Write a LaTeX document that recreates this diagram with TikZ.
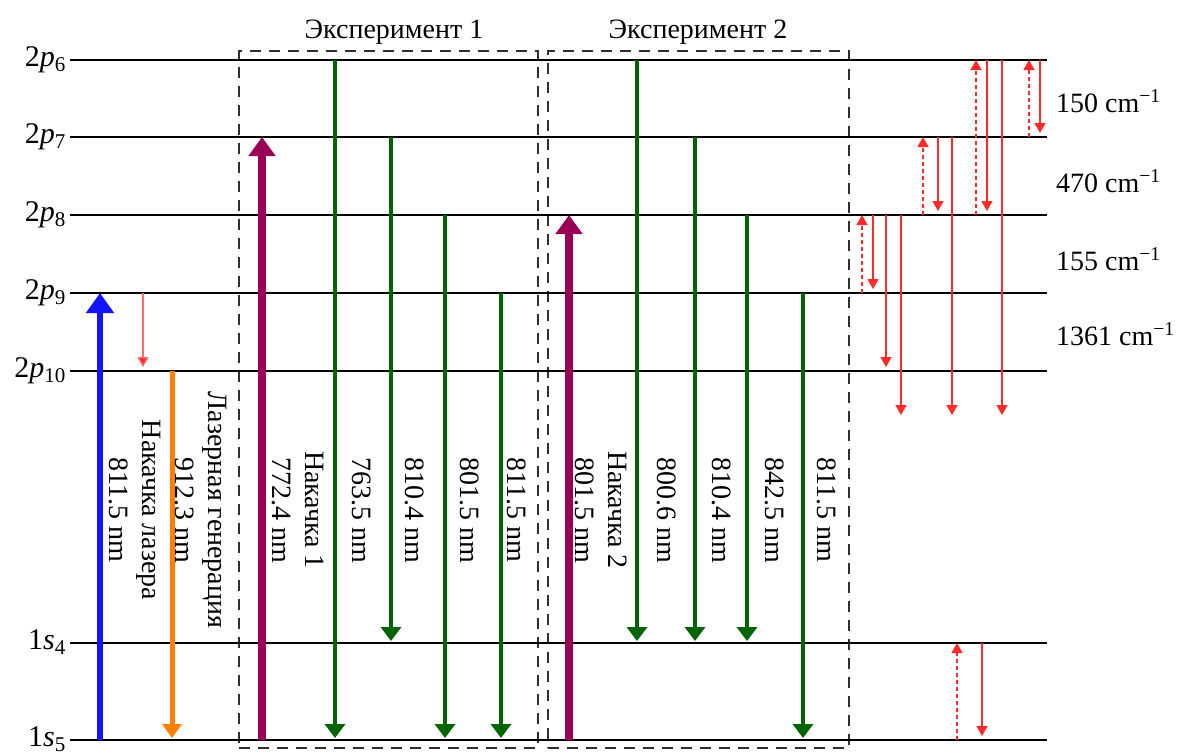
\documentclass[tikz,border=0pt]{standalone}
\usepackage{fontspec}
\setmainfont{Liberation Serif}
\usetikzlibrary{arrows.meta}
\definecolor{pgreen}{HTML}{006400}
\definecolor{pmaroon}{HTML}{990055}
\definecolor{pblue}{HTML}{1414FF}
\definecolor{porange}{HTML}{FF8000}
\definecolor{pred}{HTML}{FF2A2A}
\definecolor{plred}{HTML}{FF6A6A}
\definecolor{boxgray}{HTML}{303030}
\begin{document}
\begin{tikzpicture}[x=1pt,y=-1pt,
  lvl/.style={line width=2.8pt,black},
  lvlabel/.style={anchor=base east,inner sep=0pt,font=\fontsize{30}{33}\selectfont},
  txt/.style={inner sep=0pt,font=\fontsize{28}{33}\selectfont},
  vlabel/.style={txt,rotate=-90,align=center},
  expbox/.style={draw=boxgray,line width=1.5pt,dash pattern=on 11pt off 8pt,minimum height=697pt,inner sep=0pt,anchor=north west},
  garrow/.style={pgreen,line width=4pt,shorten >=2pt,-{Triangle[width=20pt,length=14pt]}},
  marrow/.style={pmaroon,line width=7.5pt,-{Triangle[width=26pt,length=19pt]}},
  barrow/.style={pblue,line width=6pt,-{Triangle[width=27pt,length=20pt]}},
  oarrow/.style={porange,line width=5pt,shorten >=2pt,-{Triangle[width=19pt,length=14pt]}},
  rarrow/.style={pred,line width=1.3pt,-{Triangle[width=11pt,length=10pt]}},
  rdown/.style={rarrow,shorten >=4pt},
  rup/.style={rarrow,dash pattern=on 4pt off 3pt},
]
\useasboundingbox (0,0) rectangle (1182,753);

% experiment boxes
\node[expbox,minimum width=299pt] (box1) at (238,50) {};
\node[expbox,minimum width=301pt] (box2) at (547,50) {};
\node[txt,anchor=base] (t1) at (394,38) {Эксперимент 1};
\node[txt,anchor=base] (t2) at (698,38) {Эксперимент 2};

% levels
\foreach \n/\y in {P6/60,P7/137,P8/215,P9/293,P10/371,S4/643,S5/740}{
  \coordinate (\n a) at (70,\y);
  \coordinate (\n b) at (1047,\y);
  \draw[lvl] (\n a) -- (\n b);
}
\node[lvlabel] (lP6) at ([xshift=-4pt,yshift=-6pt]P6a) {2\textit{p}\textsubscript{6}};
\node[lvlabel] (lP7) at ([xshift=-4pt,yshift=-6pt]P7a) {2\textit{p}\textsubscript{7}};
\node[lvlabel] (lP8) at ([xshift=-4pt,yshift=-6pt]P8a) {2\textit{p}\textsubscript{8}};
\node[lvlabel] (lP9) at ([xshift=-4pt,yshift=-6pt]P9a) {2\textit{p}\textsubscript{9}};
\node[lvlabel] (lP10) at ([xshift=-4pt,yshift=-6pt]P10a) {2\textit{p}\textsubscript{10}};
\node[lvlabel] (lS4) at ([xshift=-4pt,yshift=-6pt]S4a) {1\textit{s}\textsubscript{4}};
\node[lvlabel] (lS5) at ([xshift=-4pt,yshift=-6pt]S5a) {1\textit{s}\textsubscript{5}};

% laser pump and generation
\draw[barrow] (100,0 |- S5a) -- (100,0 |- P9a);
\draw[oarrow] (172,0 |- P10a) -- (172,0 |- S5a);
\draw[plred,line width=1.3pt,shorten >=4pt,-{Triangle[width=11pt,length=10pt,fill=pred]}] (143,0 |- P9a) -- (143,0 |- P10a);

% experiment 1
\draw[marrow] (262,0 |- S5a) -- (262,0 |- P7a);
\draw[garrow] (335,0 |- P6a) -- (335,0 |- S5a);
\draw[garrow] (391,0 |- P7a) -- (391,0 |- S4a);
\draw[garrow] (445,0 |- P8a) -- (445,0 |- S5a);
\draw[garrow] (501,0 |- P9a) -- (501,0 |- S5a);

% experiment 2
\draw[marrow] (569,0 |- S5a) -- (569,0 |- P8a);
\draw[garrow] (637,0 |- P6a) -- (637,0 |- S4a);
\draw[garrow] (695,0 |- P7a) -- (695,0 |- S4a);
\draw[garrow] (747,0 |- P8a) -- (747,0 |- S4a);
\draw[garrow] (803,0 |- P9a) -- (803,0 |- S5a);

% relaxation arrows
\coordinate (e1) at (901,415);
\coordinate (e2) at (952,415);
\coordinate (e3) at (1002,415);
\draw[rup] (862,0 |- P9a) -- (862,0 |- P8a);
\draw[rdown] (873,0 |- P8a) -- (873,0 |- P9a);
\draw[rdown] (886,0 |- P8a) -- (886,0 |- P10a);
\draw[rarrow] (901,0 |- P8a) -- (e1);
\draw[rup] (923,0 |- P8a) -- (923,0 |- P7a);
\draw[rdown] (938,0 |- P7a) -- (938,0 |- P8a);
\draw[rarrow] (952,0 |- P7a) -- (e2);
\draw[rup] (976,0 |- P8a) -- (976,0 |- P6a);
\draw[rdown] (987,0 |- P6a) -- (987,0 |- P8a);
\draw[rarrow] (1002,0 |- P6a) -- (e3);
\draw[rup] (1029,0 |- P7a) -- (1029,0 |- P6a);
\draw[rdown] (1040,0 |- P6a) -- (1040,0 |- P7a);
\draw[rup] (957,0 |- S5a) -- (957,0 |- S4a);
\draw[rdown] (982,0 |- S4a) -- (982,0 |- S5a);

% energy gaps
\node[txt,anchor=base west] (c1) at (1056,112) {150 cm\textsuperscript{−1}};
\node[txt,anchor=base west] (c2) at (1056,192) {470 cm\textsuperscript{−1}};
\node[txt,anchor=base west] (c3) at (1056,270) {155 cm\textsuperscript{−1}};
\node[txt,anchor=base west] (c4) at (1056,345) {1361 cm\textsuperscript{−1}};

% vertical labels
\node[vlabel] (v1) at (134.5,510) {Накачка лазера\\811.5 nm};
\node[vlabel] (v2) at (201,510) {Лазерная генерация\\912.3 nm};
\node[vlabel] (v3) at (298.5,510) {Накачка 1\\772.4 nm};
\node[vlabel] (v4) at (362,510) {763.5 nm};
\node[vlabel] (v5) at (415,510) {810.4 nm};
\node[vlabel] (v6) at (470,510) {801.5 nm};
\node[vlabel] (v7) at (517,510) {811.5 nm};
\node[vlabel] (v8) at (601.5,510) {Накачка 2\\801.5 nm};
\node[vlabel] (v9) at (667,510) {800.6 nm};
\node[vlabel] (v10) at (722,510) {810.4 nm};
\node[vlabel] (v11) at (775,510) {842.5 nm};
\node[vlabel] (v12) at (827,510) {811.5 nm};
\end{tikzpicture}
\end{document}
